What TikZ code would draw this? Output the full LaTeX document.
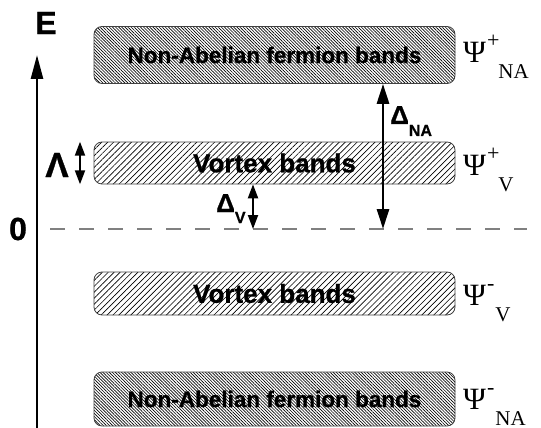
\documentclass[tikz,border=0pt]{standalone}
\usepackage{fontspec}
\setmainfont{Liberation Sans}
\newfontfamily\heavyfont{Liberation Sans Bold}[FakeBold=0.8]
\newfontfamily\psifont{Liberation Serif}
\usetikzlibrary{patterns.meta,arrows.meta}

\newcommand{\fsz}[1]{\fontsize{#1}{#1}\selectfont}

\begin{document}
\begin{tikzpicture}[x=1pt, y=-1pt,
		naband/.style={draw=black!75, line width=0.8pt, rounded corners=8pt, minimum width=361pt,
			pattern={Lines[angle=-45, distance=2.2pt, line width=0.65pt]}, font=\heavyfont\fsz{22.5}},
		vband/.style={draw=black!75, line width=0.8pt, rounded corners=8pt, minimum width=361pt,
			pattern={Lines[angle=45, distance=4.2pt, line width=0.65pt]}, font=\heavyfont\fsz{26}},
		psi/.style={anchor=base west, inner sep=0pt, font=\psifont\fsz{31}},
		lbl/.style={inner sep=0pt, font=\heavyfont\fsz{32}},
		gaplbl/.style={anchor=base west, inner sep=0pt, font=\heavyfont\fsz{26}},
		biggap/.style={line width=2.8pt, {Triangle[length=20pt,width=12pt]}-{Triangle[length=20pt,width=12pt]}},
		smallgap/.style={line width=2pt, {Triangle[length=14pt,width=10pt]}-{Triangle[length=14pt,width=10pt]}}]
			\useasboundingbox (0, 0) rectangle (541, 428);
			
			\coordinate (axb) at (37, 432);
			\coordinate (axt) at (37, 55);
			\coordinate (zl) at (50, 229);
			\coordinate (zr) at (527, 229);
			\coordinate (lamx) at (80, 0);
			\coordinate (dvx) at (253, 0);
			\coordinate (dnax) at (383, 0);
			
			\draw[line width=2.6pt, -{Triangle[length=24pt,width=12pt]}] (axb) -- (axt);
			\draw[gray, line width=1.3pt, dash pattern=on 15pt off 14pt] (zl) -- (zr);
			
			\node[naband, minimum height=57pt] (nap) at (274.5, 55) {Non-Abelian fermion bands};
			\node[vband, minimum height=42pt] (vp) at (274.5, 163) {Vortex bands};
			\node[vband, minimum height=43pt] (vm) at (274.5, 293.5) {Vortex bands};
			\node[naband, minimum height=54pt] (nam) at (274.5, 399) {Non-Abelian fermion bands};
			
			\node[lbl] (elab) at (46, 23) {E};
			\node[lbl] (zero) at (18, 229) {0};
			\node[lbl, font=\heavyfont\fsz{35}] (lam) at (57, 165) {Λ};
			\node[gaplbl] (dvlab) at (216, 212) {Δ\raisebox{-11pt}{\fsz{16}V}};
			\node[gaplbl] (dnalab) at (390, 124) {Δ\raisebox{-12pt}{\fsz{16}NA}};
			
			\draw[smallgap] (vp.north -| lamx) -- (vp.south -| lamx);
			\draw[smallgap] (vp.south -| dvx) -- (zl -| dvx);
			\draw[biggap] (nap.south -| dnax) -- (zl -| dnax);
			
			\node[psi] (psinap) at (463, 63) {Ψ\kern1pt\raisebox{15pt}{\fsz{22}+}\kern-1pt\raisebox{-16pt}{\fsz{21}NA}};
			\node[psi] (psivp) at (463, 175) {Ψ\kern1pt\raisebox{15pt}{\fsz{22}+}\kern-1pt\raisebox{-16pt}{\fsz{21}V}};
			\node[psi] (psivm) at (463, 305) {Ψ\kern1pt\raisebox{15pt}{\fsz{22}-}\kern1pt\raisebox{-16pt}{\fsz{21}V}};
			\node[psi] (psinam) at (463, 409) {Ψ\kern1pt\raisebox{15pt}{\fsz{22}-}\kern1pt\raisebox{-16pt}{\fsz{21}NA}};
			\end{tikzpicture}
\end{document}
